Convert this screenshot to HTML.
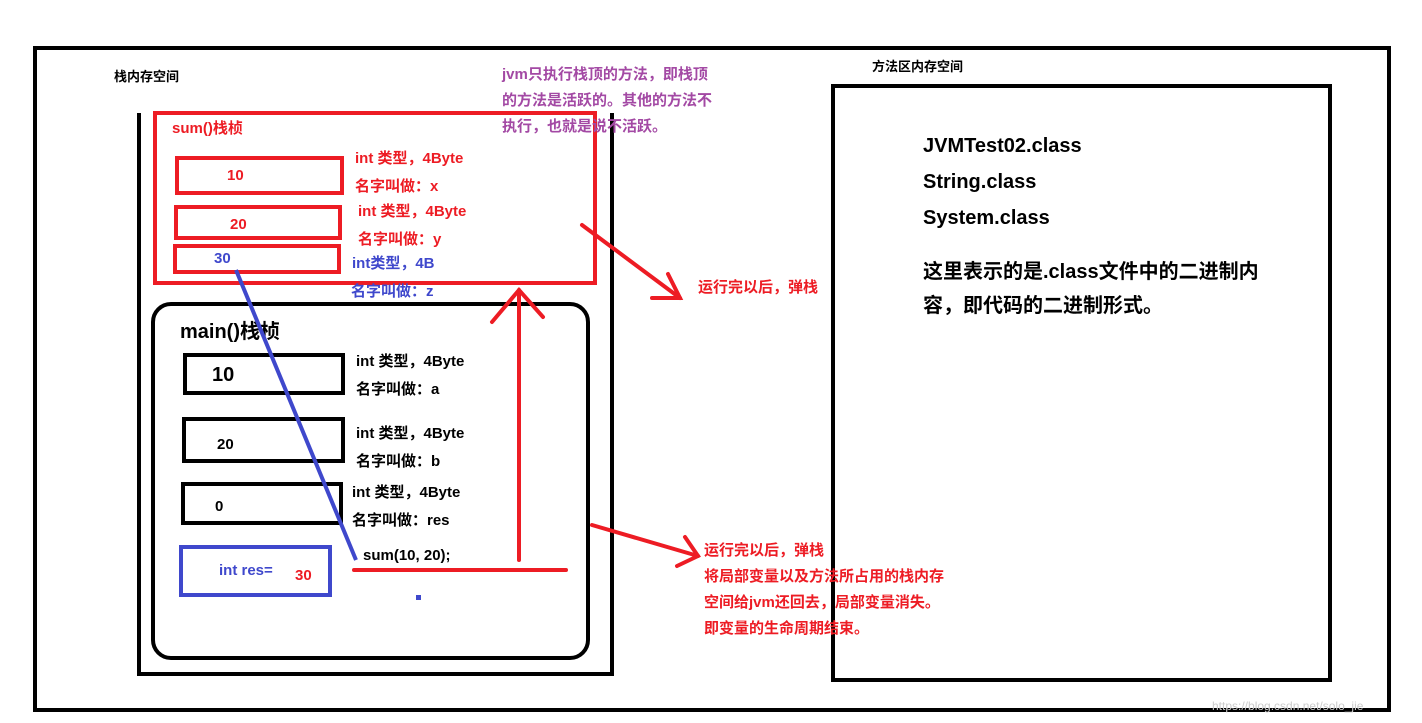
<!DOCTYPE html>
<html><head><meta charset="utf-8"><style>
body{margin:0;width:1422px;height:723px;background:#fff;position:relative;overflow:hidden;font-family:"Liberation Sans","Noto Sans CJK SC",sans-serif;font-weight:bold}
.a{position:absolute;box-sizing:border-box}
.t{position:absolute;white-space:nowrap;font-size:15px;line-height:18px}
.r{color:#ed1c24}.b{color:#3f48cc}.p{color:#a349a4}.k{color:#000}
</style></head><body>
<div class="a" style="left:33px;top:46px;width:1358px;height:666px;border:4px solid #000"></div>
<div class="a" style="left:137px;top:113px;width:477px;height:563px;border:4px solid #000;border-top:none"></div>
<div class="a" style="left:831px;top:84px;width:501px;height:598px;border:4px solid #000"></div>
<div class="t k" style="left:114px;top:68px;font-size:13px">栈内存空间</div>
<div class="t k" style="left:872px;top:58px;font-size:13px">方法区内存空间</div>

<div class="a" style="left:153px;top:111px;width:444px;height:174px;border:4px solid #ed1c24"></div>
<div class="t r" style="left:172px;top:120px">sum()栈桢</div>
<div class="a" style="left:175px;top:156px;width:169px;height:39px;border:4px solid #ed1c24"></div>
<div class="a" style="left:174px;top:205px;width:168px;height:35px;border:4px solid #ed1c24"></div>
<div class="a" style="left:173px;top:244px;width:168px;height:30px;border:4px solid #ed1c24"></div>
<div class="t r" style="left:227px;top:167px">10</div>
<div class="t r" style="left:230px;top:216px">20</div>
<div class="t b" style="left:214px;top:250px">30</div>
<div class="t r" style="left:355px;top:150px">int 类型，4Byte</div>
<div class="t r" style="left:355px;top:178px">名字叫做：x</div>
<div class="t r" style="left:358px;top:203px">int 类型，4Byte</div>
<div class="t r" style="left:358px;top:231px">名字叫做：y</div>
<div class="t b" style="left:352px;top:255px">int类型，4B</div>
<div class="t b" style="left:351px;top:283px">名字叫做：z</div>

<div class="t p" style="left:502px;top:62px;line-height:26px">jvm只执行栈顶的方法，即栈顶<br>的方法是活跃的。其他的方法不<br>执行，也就是说不活跃。</div>

<div class="a" style="left:151px;top:302px;width:439px;height:358px;border:4px solid #000;border-radius:20px"></div>
<div class="t k" style="left:180px;top:320px;font-size:20px;line-height:24px">main()栈桢</div>
<div class="a" style="left:183px;top:353px;width:162px;height:42px;border:4px solid #000"></div>
<div class="a" style="left:182px;top:417px;width:163px;height:46px;border:4px solid #000"></div>
<div class="a" style="left:181px;top:482px;width:162px;height:43px;border:4px solid #000"></div>
<div class="t k" style="left:212px;top:363px;font-size:20px;line-height:24px">10</div>
<div class="t k" style="left:217px;top:436px">20</div>
<div class="t k" style="left:215px;top:498px">0</div>
<div class="t k" style="left:356px;top:353px">int 类型，4Byte</div>
<div class="t k" style="left:356px;top:381px">名字叫做：a</div>
<div class="t k" style="left:356px;top:425px">int 类型，4Byte</div>
<div class="t k" style="left:356px;top:453px">名字叫做：b</div>
<div class="t k" style="left:352px;top:484px">int 类型，4Byte</div>
<div class="t k" style="left:352px;top:512px">名字叫做：res</div>
<div class="t k" style="left:363px;top:547px">sum(10, 20);</div>
<div class="a" style="left:179px;top:545px;width:153px;height:52px;border:4px solid #3f48cc"></div>
<div class="t b" style="left:219px;top:562px">int res=</div>
<div class="t r" style="left:295px;top:567px">30</div>
<div class="a" style="left:416px;top:595px;width:5px;height:5px;background:#3f48cc"></div>

<div class="t r" style="left:698px;top:279px">运行完以后，弹栈</div>
<div class="t r" style="left:704px;top:538px;line-height:26px">运行完以后，弹栈<br>将局部变量以及方法所占用的栈内存<br>空间给jvm还回去，局部变量消失。<br>即变量的生命周期结束。</div>

<div class="t k" style="left:923px;top:133px;font-size:20px;line-height:26px">JVMTest02.class</div>
<div class="t k" style="left:923px;top:169px;font-size:20px;line-height:26px">String.class</div>
<div class="t k" style="left:923px;top:205px;font-size:20px;line-height:26px">System.class</div>
<div class="t k" style="left:923px;top:255px;font-size:20px;line-height:34px">这里表示的是.class文件中的二进制内<br>容，即代码的二进制形式。</div>

<svg class="a" style="left:0;top:0" width="1422" height="723">
<g stroke="#3f48cc" stroke-width="4" fill="none"><line x1="236" y1="270" x2="356" y2="560"/></g>
<g stroke="#ed1c24" stroke-width="4" fill="none" stroke-linecap="round">
<line x1="519" y1="560" x2="519" y2="290"/>
<polyline points="492,322 519,290 543,317"/>
<line x1="354" y1="570" x2="566" y2="570"/>
<line x1="582" y1="225" x2="680" y2="298"/>
<polyline points="652,298 680,298 668,274"/>
<line x1="592" y1="525" x2="698" y2="556"/>
<polyline points="677,566 698,556 685,537"/>
</g>
</svg>
<div class="t" style="left:1212px;top:697px;font-size:12px;color:#ccc;font-weight:normal">https://blog.csdn.net/solo_jie</div>
</body></html>
